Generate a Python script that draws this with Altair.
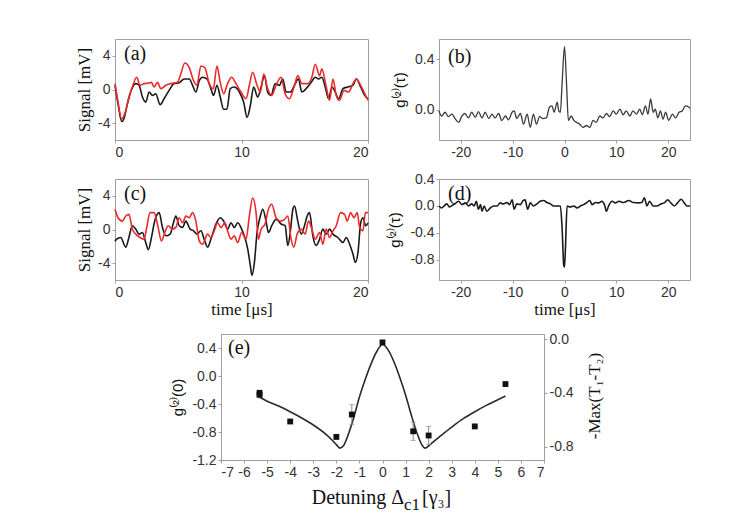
import altair as alt
import pandas as pd

# ---------------- data ----------------
# panel (a): time [us], signal [mV]
a_black_t = [0, 0.24, 0.53, 0.7, 0.98, 1.24, 1.64, 1.9, 2.17, 2.43, 2.7, 2.96, 3.22, 3.57, 3.88, 4.28, 4.68, 5.07, 5.47, 5.87,
             6.13, 6.39, 6.66, 6.92, 7.27, 7.58, 7.79, 8.06, 8.32, 8.59, 8.85, 9.11, 9.43, 9.83, 10.17, 10.44, 10.7, 10.96, 11.28, 11.55,
             11.81, 12.07, 12.34, 12.66, 13.0, 13.26, 13.53, 13.87, 14.19, 14.5, 14.77, 15.11, 15.51, 15.83, 16.09, 16.35, 16.62, 16.88,
             17.15, 17.41, 17.68, 18.02, 18.41, 18.81, 19.08, 19.42, 19.74, 20.0]
a_black_v = [0.5, -1.7, -3.8, -3.5, -1.7, -0.3, 0.7, 0.5, -0.9, -1.5, -0.3, -0.7, -0.5, -1.8, -1.1, -0.1, 0.7, 0.8, 1.25, 1.25,
             0.5, -0.3, 1.05, 1.45, 1.25, 0.1, -0.7, 0.5, -0.9, -2.35, -2.35, 0.1, 0.3, -0.3, -1.5, -3.3, -1.9, 0.3, -0.9, 0.3,
             1.65, -0.3, -0.7, 0.7, 0.5, 1.25, -0.3, -0.3, 0.5, 1.25, -0.3, 0.1, 0.85, 1.45, 1.25, 1.45, 0.3, -1.1,
             0.3, -0.3, -1.1, 0.1, 0.3, 0.5, 1.25, 0.3, -0.7, -1.1]
a_red_t = [0, 0.24, 0.53, 0.85, 1.1, 1.37, 1.72, 1.98, 2.3, 2.62, 2.88, 3.09, 3.36, 3.62, 4.02, 4.41, 4.94, 5.2, 5.52, 5.87,
           6.21, 6.47, 6.79, 7.1, 7.45, 7.77, 8.06, 8.32, 8.59, 8.9, 9.22, 9.56, 9.96, 10.36, 10.62, 10.88, 11.23, 11.49, 11.76, 12.07,
           12.39, 12.73, 13.13, 13.45, 13.79, 14.19, 14.45, 14.77, 15.24, 15.56, 15.83, 16.17, 16.35, 16.7, 16.96, 17.23, 17.49, 17.75,
           18.1, 18.47, 18.81, 19.08, 19.42, 19.74, 20.0]
a_red_v = [0.7, -1.5, -3.5, -2.5, -0.9, 0.3, 1.45, 0.5, 0.7, 0.75, 0.85, 0.3, 0.85, 0.1, 0.5, 0.7, 0.85, 1.85, 3.15, 2.6,
           1.05, 0.5, 2.8, 2.6, 0.7, 0.1, 2.8, 0.85, -0.5, 0.7, 1.45, 0.7, -0.3, -1.1, 0.5, 2.05, 0.5, -0.3, 1.85, 0.1,
           -0.7, 0.5, 1.45, -0.5, -1.1, 0.5, 1.65, 0.7, 0.7, 1.45, 3.0, 1.65, 2.45, 0.3, -1.3, 1.25, -0.7, -1.3,
           -0.1, -0.3, 0.7, 1.25, 0.5, -0.5, -1.3]

# panel (c)
c_black_t = [0, 0.13, 0.45, 0.85, 1.1, 1.37, 1.64, 1.9, 2.17, 2.43, 2.64, 2.88, 3.14, 3.49, 3.75, 4.02, 4.36, 4.62, 4.81, 5.07,
             5.34, 5.6, 5.94, 6.21, 6.47, 6.79, 7.05, 7.32, 7.58, 7.98, 8.32, 8.59, 8.9, 9.17, 9.43, 9.7, 10.01, 10.22, 10.49, 10.7,
             10.83, 11.02, 11.23, 11.49, 11.68, 11.94, 12.13, 12.39, 12.73, 13.13, 13.45, 13.66, 13.87, 14.06, 14.19, 14.45, 14.72, 14.98,
             15.19, 15.38, 15.64, 15.9, 16.17, 16.43, 16.7, 16.96, 17.23, 17.62, 18.02, 18.28, 18.55, 18.81, 19.0, 19.21, 19.42, 19.6,
             19.82, 20.0]
c_black_v = [-1.4, -1.15, -0.95, -2.1, -0.95, 0.45, 0.05, -0.55, -0.35, -1.55, -2.4, -0.95, 1.0, 2.0, 0.25, -0.75, -0.55, 0.8, 1.6, 0.45,
             0.25, 1.0, 0.05, -0.15, -0.55, -0.15, -1.15, -2.1, -1.15, 0.65, 1.4, 1.0, 0.05, 0.8, 0.25, 0.8, 0.05, -0.75, -2.3, -4.3,
             -5.45, -3.9, -0.35, 1.6, 2.4, 1.0, -0.35, 0.45, 1.2, 0.65, 0.45, -1.9, -0.15, 2.4, 2.8, 1.0, -0.55, 0.45,
             1.6, 2.0, -0.75, -1.9, -1.15, 0.05, -0.55, 0.05, -0.55, -0.95, -1.55, -0.95, -1.75, -2.9, -3.9, -2.7, 0.8, 1.4,
             0.45, 0.8]
c_red_t = [0, 0.24, 0.58, 0.85, 1.1, 1.37, 1.64, 1.98, 2.3, 2.51, 2.77, 3.09, 3.41, 3.67, 3.94, 4.2, 4.54, 4.81, 5.07, 5.34,
           5.6, 5.87, 6.13, 6.39, 6.66, 6.92, 7.32, 7.58, 7.85, 8.11, 8.38, 8.69, 8.9, 9.17, 9.43, 9.7, 10.01, 10.36, 10.62, 10.88,
           11.15, 11.33, 11.55, 11.86, 12.13, 12.39, 12.73, 13.08, 13.4, 13.66, 13.92, 14.13, 14.4, 14.72, 15.03, 15.3, 15.56, 15.83,
           16.17, 16.43, 16.7, 16.96, 17.23, 17.49, 17.83, 18.15, 18.36, 18.62, 18.89, 19.15, 19.34, 19.6, 19.79, 20.0]
c_red_v = [2.4, 1.4, 1.0, 1.6, 1.8, 0.05, -0.55, -0.95, -1.15, 0.25, 2.0, 2.0, 0.25, -1.35, -0.35, 0.45, 0.05, 0.25, 1.4, 0.8,
           1.6, 1.4, 2.0, 1.0, -1.35, -1.75, -0.55, -0.95, -0.15, 0.8, 0.25, 0.8, -0.15, -1.15, -0.75, -1.55, -0.35, -1.15, 1.6, 3.75,
           2.0, -1.15, 0.05, 0.65, 2.4, 3.0, 1.4, 1.0, 1.2, 1.6, -1.15, -2.1, -0.55, 0.05, -0.55, 1.0, 0.05, -1.15,
           -0.35, -1.75, 0.05, -0.95, -0.15, 0.45, 2.0, 1.8, 1.0, 2.0, 1.4, 2.0, 0.25, -0.15, 2.0, 2.0]

# panel (b): tau [us], g2(tau)
b_tau = [-24.2, -23.7, -23.0, -22.4, -21.7, -21.1, -20.4, -19.8, -19.2, -18.5, -17.9, -17.2, -16.6, -15.9, -15.3, -14.6, -14.0,
         -13.4, -12.7, -12.1, -11.4, -10.8, -10.1, -9.7, -9.2, -8.5, -7.9, -7.2, -6.6, -6.0, -5.4, -4.8, -4.2, -3.5, -2.9, -2.4,
         -2.0, -1.4, -1.1, -0.8, -0.45, 0.0, 0.4, 0.75, 1.3, 1.8, 2.3, 2.9, 3.6, 4.2, 4.9, 5.5, 6.1, 6.8, 7.4, 8.1, 8.7, 9.4,
         10.0, 10.7, 11.3, 11.9, 12.6, 13.2, 13.9, 14.5, 15.0, 15.6, 16.1, 16.6, 17.1, 17.5, 18.0, 18.5, 19.0, 19.5, 20.1, 20.8,
         21.4, 22.1, 22.7, 23.3, 24.0, 24.2]
b_g2 = [-0.01, -0.05, -0.02, -0.055, -0.035, -0.07, -0.1, -0.05, -0.03, -0.065, -0.02, -0.06, -0.015, -0.065, -0.02, -0.07, -0.035,
        -0.065, -0.03, -0.085, -0.05, -0.08, -0.02, -0.01, -0.07, -0.03, -0.115, -0.035, -0.14, -0.035, -0.115, -0.055, -0.07, -0.065, 0.02, 0.03,
        -0.02, 0.06, -0.01, -0.02, 0.22, 0.5, 0.2, -0.085, -0.05, -0.085, -0.1, -0.115, -0.14, -0.125, -0.14, -0.085, -0.1, -0.05, -0.065, -0.03, -0.055, -0.01,
        -0.035, 0.005, -0.04, -0.01, -0.05, -0.01, -0.035, 0.005, -0.04, 0.03, -0.035, 0.085, -0.02, 0.005, -0.065, -0.01, -0.075, -0.02, -0.085, -0.035,
        -0.065, -0.02, -0.01, 0.03, 0.02, 0.01]

# panel (d)
d_tau = [-24.2, -23.7, -23.2, -22.7, -22.2, -21.4, -20.9, -20.4, -19.8, -19.1, -18.5, -17.9, -17.4, -17.0, -16.6, -16.2, -15.9,
         -15.5, -15.0, -14.3, -13.7, -13.0, -12.4, -11.8, -11.1, -10.6, -10.1, -9.7, -9.2, -8.5, -8.0, -7.6, -7.1, -6.6, -6.0,
         -5.3, -4.7, -4.0, -3.4, -2.7, -2.1, -1.4, -0.8, -0.45, -0.15, 0.0, 0.2, 0.5, 1.1, 1.8, 2.4, 3.1, 3.7, 4.3, 4.9, 5.3,
         6.0, 6.6, 7.2, 7.7, 8.1, 8.5, 9.2, 9.8, 10.5, 11.4, 12.4, 13.3, 14.3, 14.9, 15.4, 15.9, 16.4, 17.1, 17.8, 18.6, 19.3,
         19.9, 20.5, 21.2, 21.8, 22.5, 23.1, 23.6, 24.2]
d_g2 = [0.0, -0.03, 0.0, 0.03, -0.015, 0.02, 0.045, 0.07, 0.02, 0.045, 0.0, 0.03, 0.0, 0.07, -0.05, 0.02, -0.08,
        0.0, -0.08, -0.03, 0.0, 0.0, 0.045, 0.03, 0.05, 0.02, 0.09, -0.05, 0.03, 0.02, 0.08, 0.09, -0.05, 0.045, 0.0,
        0.03, 0.07, 0.08, 0.05, 0.03, 0.0, 0.0, 0.0, -0.35, -0.88, -0.91, -0.59, 0.0, -0.015, 0.0, -0.03, 0.0, 0.02, 0.05, 0.08, 0.02,
        0.05, 0.045, 0.07, 0.02, -0.08, 0.0, 0.07, 0.045, 0.07, 0.05, 0.08, 0.05, 0.045, 0.05, 0.12, 0.0, 0.07, 0.0, 0.0, 0.03, 0.05,
        0.09, 0.045, 0.0, 0.045, 0.1, 0.045, 0.0, 0.0]

# panel (e)
e_det = [-5.33, -5.33, -4.0, -2.0, -1.33, 0.0, 1.33, 2.0, 4.0, 5.33]
e_g0 = [-0.24, -0.27, -0.65, -0.87, -0.55, 0.48, -0.79, -0.85, -0.72, -0.115]
e_err = [0.02, 0.02, 0.0, 0.03, 0.14, 0.0, 0.13, 0.13, 0.0, 0.0]
fit_det = [-5.33, -5.0, -4.5, -4.0, -3.5, -3.0, -2.5, -2.2, -2.0, -1.85, -1.7, -1.5, -1.25, -1.0, -0.75, -0.5, -0.25, 0.0,
           0.25, 0.5, 0.75, 1.0, 1.25, 1.5, 1.7, 1.85, 2.0, 2.2, 2.5, 3.0, 3.5, 4.0, 4.5, 5.0, 5.33]
fit_g0 = [-0.30, -0.36, -0.43, -0.51, -0.60, -0.70, -0.82, -0.91, -0.98, -1.03, -1.0, -0.85, -0.6, -0.3, -0.05, 0.17, 0.35, 0.45,
          0.37, 0.2, -0.02, -0.27, -0.56, -0.82, -0.98, -1.03, -1.0, -0.94, -0.86, -0.73, -0.61, -0.51, -0.42, -0.34, -0.285]
right_ticks = [0.0, -0.4, -0.8]

# tick values
sig_ticks = [-4, 0, 4]
t_ticks = [0, 10, 20]
tau_ticks = [-20, -10, 0, 10, 20]
b_yticks = [0.0, 0.4]
d_yticks = [-0.8, -0.4, 0.0, 0.4]
e_xticks = list(range(-7, 8))
e_yticks = [-1.2, -0.8, -0.4, 0.0, 0.4]

# ---------------- styling ----------------
BLACK = "#1a1a1a"
RED = "#ea2a2c"
AXC = "#a0a0a0"
SERIF = "Liberation Serif"
SANS = "Liberation Sans"
MINUS_FIX = "replace(datum.label, '\u2212', '-')"

ONE = pd.DataFrame({"k": [0]})


def ghost(x, y, baseline="top"):
    return alt.Chart(ONE).mark_text(text=".", opacity=0, align="left", baseline=baseline).encode(
        x=alt.value(x), y=alt.value(y))


def txt(s, x, y, size=20, align="left", font=SERIF, angle=0, baseline="alphabetic"):
    return alt.Chart(ONE).mark_text(text=s, font=font, fontSize=size, align=align, angle=angle,
                                    baseline=baseline, color="#111").encode(x=alt.value(x), y=alt.value(y))


def signal_panel(bt, bv, rt, rv, label, xtitle, extra):
    black = pd.DataFrame({"t": bt, "v": bv})
    red = pd.DataFrame({"t": rt, "v": rv})
    X = alt.X("t:Q", scale=alt.Scale(domain=[0, 20], nice=False),
              axis=alt.Axis(values=t_ticks, title=xtitle, titlePadding=2, labelOverlap=False, labelExpr=MINUS_FIX))
    Y = alt.Y("v:Q", scale=alt.Scale(domain=[-6, 6], nice=False),
              axis=alt.Axis(values=sig_ticks, title="Signal [mV]", titlePadding=4, labelOverlap=False,
                            labelExpr=MINUS_FIX))
    lb = alt.Chart(black).mark_line(color=BLACK, strokeWidth=1.6, interpolate="monotone").encode(x=X, y=Y)
    lr = alt.Chart(red).mark_line(color=RED, strokeWidth=1.6, interpolate="monotone").encode(x=X, y=Y)
    return alt.layer(lb, lr, txt(label, 9, 21), *extra).properties(width=253, height=101)


def g2_panel(tau, g, ydom, yticks, label, xtitle, label_y):
    df = pd.DataFrame({"tau": tau, "g": g})
    X = alt.X("tau:Q", scale=alt.Scale(domain=[-24.2, 24.2], nice=False),
              axis=alt.Axis(values=tau_ticks, title=xtitle, titlePadding=2, labelOverlap=False, labelExpr=MINUS_FIX))
    Y = alt.Y("g:Q", scale=alt.Scale(domain=ydom, nice=False),
              axis=alt.Axis(values=yticks, format=".1f", title="g\u207d\u00b2\u207e(\u03c4)", titlePadding=7,
                            titleFont=SANS, titleFontSize=15, labelOverlap=False, labelExpr=MINUS_FIX))
    line = alt.Chart(df).mark_line(color=BLACK if label == "(d)" else "#3a3a3a",
                                   strokeWidth=1.6 if label == "(d)" else 1.3,
                                   interpolate="monotone").encode(x=X, y=Y)
    return alt.layer(line, txt(label, 9, label_y)).properties(width=251, height=101)


pa = signal_panel(a_black_t, a_black_v, a_red_t, a_red_v, "(a)", None,
                  [ghost(-101, -25), ghost(0, 128, "bottom")])
pb = g2_panel(b_tau, b_g2, [-0.24, 0.56], b_yticks, "(b)", None, 24)
pc = signal_panel(c_black_t, c_black_v, c_red_t, c_red_v, "(c)", "time [\u03bcs]",
                  [ghost(-101, -10), ghost(0, 143, "bottom")])
pd_ = g2_panel(d_tau, d_g2, [-1.1, 0.4], d_yticks, "(d)", "time [\u03bcs]", 21)

# panel (e)
pts = pd.DataFrame({"det": e_det, "g0": e_g0, "err": e_err})
fit = pd.DataFrame({"det": fit_det, "g0": fit_g0})
EX = alt.X("det:Q", scale=alt.Scale(domain=[-7, 7], nice=False),
           axis=alt.Axis(values=e_xticks, title=None, labelOverlap=False, labelExpr=MINUS_FIX))
EY_SCALE = alt.Scale(domain=[-1.2, 0.6], nice=False)
EY_AXIS = alt.Axis(values=e_yticks, format=".1f", title="g\u207d\u00b2\u207e(0)", titlePadding=6,
                   titleFont=SANS, titleFontSize=15, labelOverlap=False, labelExpr=MINUS_FIX)
EY = alt.Y("g0:Q", scale=EY_SCALE, axis=EY_AXIS)
fit_line = alt.Chart(fit).mark_line(color="#2a2a2a", strokeWidth=1.6, interpolate="monotone").encode(x=EX, y=EY)
base_pts = alt.Chart(pts).transform_calculate(lo="datum.g0 - datum.err", hi="datum.g0 + datum.err")
errs = base_pts.mark_rule(color="#888", strokeWidth=1).encode(
    x=EX, y=alt.Y("lo:Q", scale=EY_SCALE, axis=EY_AXIS), y2="hi:Q")
cap_lo = base_pts.mark_tick(color="#888", size=5, thickness=1, orient="horizontal").encode(
    x=EX, y=alt.Y("lo:Q", scale=EY_SCALE, axis=EY_AXIS))
cap_hi = base_pts.mark_tick(color="#888", size=5, thickness=1, orient="horizontal").encode(
    x=EX, y=alt.Y("hi:Q", scale=EY_SCALE, axis=EY_AXIS))
squares = alt.Chart(pts).mark_point(shape="square", filled=True, color="#111", size=34, opacity=1).encode(x=EX, y=EY)

e_left = alt.layer(
    fit_line, errs, cap_lo, cap_hi, squares,
    txt("(e)", 7, 20),
    txt("Detuning \u0394", 183, 170, size=20, align="right"),
    txt("c1", 183, 176, size=17),
    txt("[\u03b3\u2083]", 201, 170, size=20),
    txt("-Max(T\u2081-T\u2082)", 374, 62, size=17, align="center", angle=270, baseline="middle"),
    ghost(0, -10),
)
right = alt.Chart(pd.DataFrame({"r": right_ticks})).mark_point(opacity=0).encode(
    y=alt.Y("r:Q", scale=alt.Scale(domain=[-0.9, 0.04], nice=False),
            axis=alt.Axis(orient="right", values=right_ticks, format=".1f", title=None,
                          labelOverlap=False, labelExpr=MINUS_FIX)))
pe = alt.layer(e_left, right).resolve_scale(y="independent").properties(width=323, height=126)

spacer = alt.Chart(ONE).mark_text(text=".", opacity=0).encode(
    x=alt.value(0), y=alt.value(0)).properties(width=97, height=126, view=alt.ViewConfig(stroke="transparent"))

row1 = alt.hconcat(pa, pb, spacing=71, bounds="flush")
row2 = alt.hconcat(pc, pd_, spacing=71, bounds="flush")
row3 = alt.hconcat(spacer, pe, spacing=9, bounds="flush")

chart = alt.vconcat(row1, row2, row3, spacing=0).configure_axis(
    domainColor=AXC, tickColor=AXC, tickSize=3, labelPadding=2, labelOverlap=False,
    labelFont=SANS, labelFontSize=14, labelColor="#333",
    titleFont=SERIF, titleFontSize=17, titleFontWeight="normal", titleColor="#111", grid=False,
).configure_view(stroke=AXC, strokeWidth=1)

chart.save("out.html", embed_options={"renderer": "svg", "actions": False})
